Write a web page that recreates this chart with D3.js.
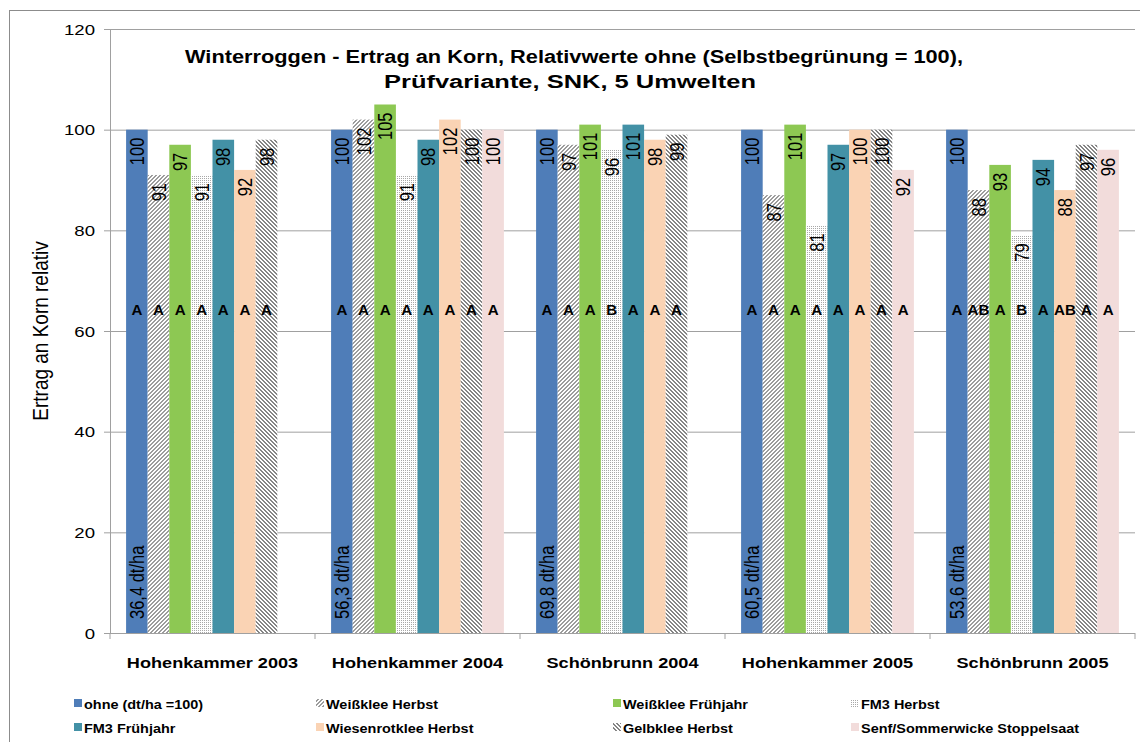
<!DOCTYPE html>
<meta charset="utf-8">
<head>
    <title>Winterroggen - Ertrag an Korn</title>
</head>
<style>
    body { margin: 0; background: #fff; }
    text { font-family: "Liberation Sans", Arial, sans-serif; }
</style>
<script src="https://d3js.org/d3.v7.min.js"></script>
<body>
    <div id="chart"></div>
</body>
<script>

    // data
    var sites = ["Hohenkammer 2003", "Hohenkammer 2004", "Schönbrunn 2004", "Hohenkammer 2005", "Schönbrunn 2005"];
    var series = ["ohne (dt/ha =100)", "Weißklee Herbst", "Weißklee Frühjahr", "FM3 Herbst",
        "FM3 Frühjahr", "Wiesenrotklee Herbst", "Gelbklee Herbst", "Senf/Sommerwicke Stoppelsaat"];
    var values = [
        [100, 91, 97, 91, 98, 92, 98, null],
        [100, 102, 105, 91, 98, 102, 100, 100],
        [100, 97, 101, 96, 101, 98, 99, null],
        [100, 87, 101, 81, 97, 100, 100, 92],
        [100, 88, 93, 79, 94, 88, 97, 96]
    ];
    var letters = [
        ["A", "A", "A", "A", "A", "A", "A", null],
        ["A", "A", "A", "A", "A", "A", "A", "A"],
        ["A", "A", "A", "B", "A", "A", "A", null],
        ["A", "A", "A", "A", "A", "A", "A", "A"],
        ["A", "AB", "A", "B", "A", "AB", "A", "A"]
    ];
    var absYield = ["36,4 dt/ha", "56,3 dt/ha", "69,8 dt/ha", "60,5 dt/ha", "53,6 dt/ha"];
    var yTicks = [0, 20, 40, 60, 80, 100, 120];
    var letterLevel = 64.2;

    var fills = ["#4f7db8", "url(#hatch1)", "#8dc853", "url(#dots)",
        "#4391a6", "#fad3b4", "url(#hatch2)", "#f2dcdb"];

    var SX = 1.2; // text in the picture is drawn a bit wide

    var W = 1140, H = 742;
    var svg = d3.select("#chart").append("svg")
        .attr("width", W)
        .attr("height", H);

    // fill patterns, pixel by pixel
    var defs = svg.append("defs");
    function pixelPattern(id, size, color, test) {
        var p = defs.append("pattern").attr("id", id)
            .attr("patternUnits", "userSpaceOnUse")
            .attr("width", size).attr("height", size);
        p.append("rect").attr("width", size).attr("height", size).attr("fill", "#fff");
        for (var i = 0; i < size; i++) {
            for (var j = 0; j < size; j++) {
                if (test(i, j)) {
                    p.append("rect").attr("x", i).attr("y", j)
                        .attr("width", 1).attr("height", 1)
                        .attr("fill", color).attr("shape-rendering", "crispEdges");
                }
            }
        }
    }
    pixelPattern("hatch1", 4, "#9c9c9c", function (i, j) { return (i + j) % 4 < 2; });
    pixelPattern("hatch2", 4, "#858585", function (i, j) { return (i - j + 8) % 4 < 2; });
    pixelPattern("dots", 2, "#a8a8a8", function (i, j) { return i === 0 && j === 0; });

    // outer border
    svg.append("rect")
        .attr("x", 9.5).attr("y", 10.5)
        .attr("width", W + 20).attr("height", H + 20)
        .attr("fill", "none").attr("stroke", "#8c8c8c");

    // scales
    var x0 = d3.scaleBand().domain(sites).range([110, 1135]);
    var x1 = d3.scaleBand().domain(series).range([0, x0.bandwidth()]).paddingOuter(0.745);
    var y = d3.scaleLinear().domain([0, 120]).range([633, 29]);

    // gridlines + y axis
    var yAxis = d3.axisLeft(y).tickValues(yTicks).tickSize(6).tickFormat("");
    var gy = svg.append("g").attr("transform", "translate(110,0)").call(yAxis);
    gy.select(".domain").attr("stroke", "#a0a0a0");
    gy.selectAll(".tick line").attr("stroke", "#a0a0a0");
    gy.selectAll(".tick").append("line")
        .attr("x1", 0).attr("x2", 1135 - 110)
        .attr("stroke", "#a0a0a0");
    svg.append("g").selectAll("text")
        .data(yTicks)
        .join("text")
        .attr("transform", function (d) { return "translate(95," + y(d) + ") scale(" + SX + ",1)"; })
        .attr("dy", "0.36em")
        .attr("text-anchor", "end")
        .attr("font-size", "15.5px")
        .text(function (d) { return d; });

    // x axis
    svg.append("g").selectAll("text")
        .data(sites)
        .join("text")
        .attr("transform", function (d) {
            return "translate(" + (x0(d) + x0.bandwidth() / 2) + ",668) scale(1.17,1)";
        })
        .attr("text-anchor", "middle")
        .attr("font-size", "15.5px")
        .attr("font-weight", "bold")
        .text(function (d) { return d; });
    svg.append("g").selectAll("line")
        .data(sites.concat(["end"]))
        .join("line")
        .attr("x1", function (d, i) { return i < sites.length ? x0(d) : x0.range()[1]; })
        .attr("x2", function (d, i) { return i < sites.length ? x0(d) : x0.range()[1]; })
        .attr("y1", 633).attr("y2", 639)
        .attr("stroke", "#a0a0a0");

    // bars
    var groups = svg.append("g").selectAll("g")
        .data(sites)
        .join("g")
        .attr("transform", function (d) { return "translate(" + x0(d) + ",0)"; });

    groups.each(function (site, si) {
        var g = d3.select(this);
        var rows = series.map(function (s, k) {
            return { s: s, k: k, v: values[si][k], l: letters[si][k] };
        }).filter(function (d) { return d.v !== null; });

        g.selectAll("rect").data(rows).join("rect")
            .attr("x", function (d) { return x1(d.s); })
            .attr("width", x1.bandwidth())
            .attr("y", function (d) { return y(d.v); })
            .attr("height", function (d) { return y(0) - y(d.v); })
            .attr("fill", function (d) { return fills[d.k]; });

        // value labels
        g.selectAll("text.val").data(rows).join("text")
            .attr("class", "val")
            .attr("transform", function (d) {
                return "translate(" + (x1(d.s) + x1.bandwidth() / 2) + "," + (y(d.v) + 8) + ") scale(" + SX + ",1) rotate(-90)";
            })
            .attr("dy", "0.36em")
            .attr("text-anchor", "end")
            .attr("font-size", "16.5px")
            .text(function (d) { return d.v; });

        // significance letters
        g.selectAll("text.let").data(rows).join("text")
            .attr("class", "let")
            .attr("transform", function (d) {
                return "translate(" + (x1(d.s) + x1.bandwidth() / 2) + "," + y(letterLevel) + ") scale(1.08,1)";
            })
            .attr("dy", "0.36em")
            .attr("text-anchor", "middle")
            .attr("font-size", "14px")
            .attr("font-weight", "bold")
            .text(function (d) { return d.l; });

        // absolute yield on the reference bar
        g.append("text")
            .attr("transform", "translate(" + (x1(series[0]) + x1.bandwidth() / 2) + "," + (y(0) - 14) + ") scale(" + SX + ",1) rotate(-90)")
            .attr("dy", "0.36em")
            .attr("text-anchor", "start")
            .attr("font-size", "16.5px")
            .text(absYield[si]);
    });

    // title
    svg.append("text")
        .attr("x", 574).attr("y", 63)
        .attr("text-anchor", "middle")
        .attr("font-size", "18px")
        .attr("font-weight", "bold")
        .attr("textLength", 778)
        .attr("lengthAdjust", "spacingAndGlyphs")
        .text("Winterroggen - Ertrag an Korn, Relativwerte ohne (Selbstbegrünung = 100),");
    svg.append("text")
        .attr("x", 570).attr("y", 88)
        .attr("text-anchor", "middle")
        .attr("font-size", "18px")
        .attr("font-weight", "bold")
        .attr("textLength", 372)
        .attr("lengthAdjust", "spacingAndGlyphs")
        .text("Prüfvariante, SNK, 5 Umwelten");

    // y axis title
    svg.append("text")
        .attr("transform", "translate(48,331) scale(" + SX + ",1) rotate(-90)")
        .attr("text-anchor", "middle")
        .attr("font-size", "19px")
        .text("Ertrag an Korn relativ");

    // legend
    var legX = [74, 316, 613, 851];
    var legY = [704, 728];
    var leg = svg.append("g").selectAll("g")
        .data(series)
        .join("g")
        .attr("transform", function (d, i) {
            return "translate(" + legX[i % 4] + "," + legY[Math.floor(i / 4)] + ")";
        });
    leg.append("rect")
        .attr("x", 0).attr("y", -5)
        .attr("width", 8).attr("height", 8)
        .attr("fill", function (d, i) { return fills[i]; });
    leg.append("text")
        .attr("transform", "translate(10,0) scale(1.07,1)")
        .attr("dy", "0.36em")
        .attr("font-size", "13.5px")
        .attr("font-weight", "bold")
        .text(function (d) { return d; });

</script>
